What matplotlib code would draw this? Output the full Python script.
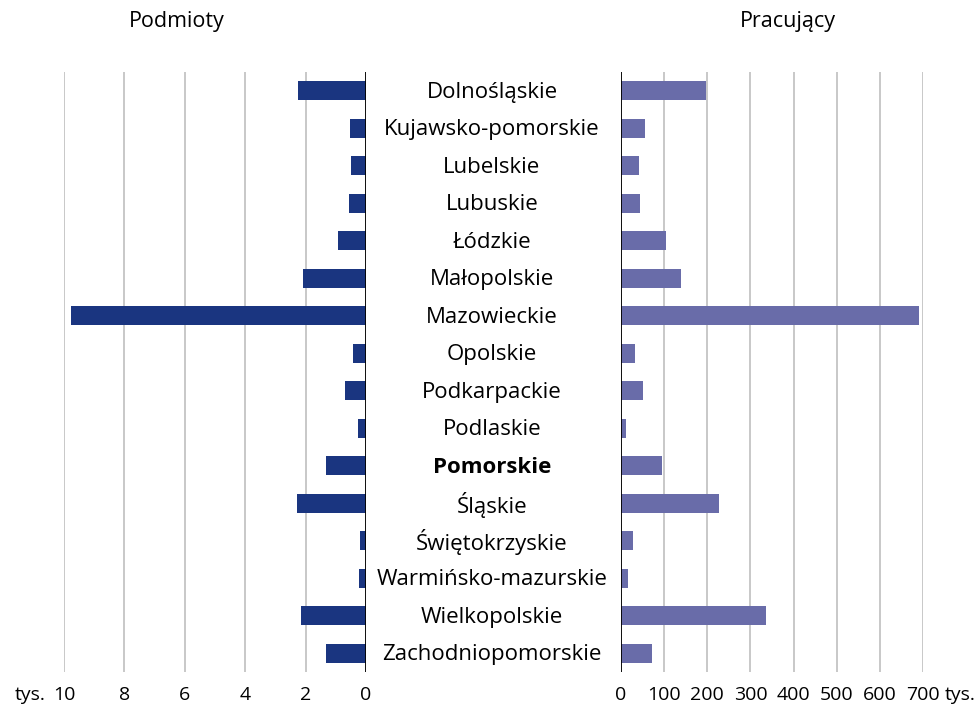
import matplotlib.pyplot as plt
import matplotlib.transforms as mtransforms

plt.rcParams['font.family'] = ['Open Sans', 'DejaVu Sans']

# województwa, od góry
regions = ['Dolnośląskie', 'Kujawsko-pomorskie', 'Lubelskie', 'Lubuskie', 'Łódzkie',
           'Małopolskie', 'Mazowieckie', 'Opolskie', 'Podkarpackie', 'Podlaskie',
           'Pomorskie', 'Śląskie', 'Świętokrzyskie', 'Warmińsko-mazurskie',
           'Wielkopolskie', 'Zachodniopomorskie']
# podmioty, tys.
podmioty = [2.26, 0.53, 0.5, 0.56, 0.93, 2.09, 9.78, 0.43, 0.7, 0.27,
            1.33, 2.29, 0.2, 0.23, 2.15, 1.33]
# pracujący, tys.
pracujacy = [198, 56, 42, 44, 105, 140, 690, 33, 51, 12,
             95, 226, 27, 16, 336, 72]
left_ticks = [0, 2, 4, 6, 8, 10]
right_ticks = [0, 100, 200, 300, 400, 500, 600, 700]

c_left = '#1a3580'
c_right = '#696ca9'
grid_c = '#bfbfbf'

fig = plt.figure(figsize=(9.78, 7.09), dpi=100)
ax1 = fig.add_axes([64 / 978, 1 - 672 / 709, 302 / 978, 600 / 709])
ax2 = fig.add_axes([621 / 978, 1 - 672 / 709, 302 / 978, 600 / 709])

y = list(range(len(regions)))

ax1.barh(y, podmioty, height=0.5, color=c_left, zorder=3)
ax1.set_xlim(10, 0)
ax1.set_xticks(left_ticks)

ax2.barh(y, pracujacy, height=0.5, color=c_right, zorder=3)
ax2.set_xlim(0, 700)
ax2.set_xticks(right_ticks)

for ax in (ax1, ax2):
    ax.set_ylim(len(regions) - 0.5, -0.5)
    ax.set_yticks([])
    for s in ax.spines.values():
        s.set_visible(False)
    ax.grid(axis='x', color=grid_c, linewidth=1.2, zorder=0)
    ax.tick_params(axis='x', length=0, labelsize=14, pad=10)
    ax.axvline(0, color='black', linewidth=1.3, zorder=4)

# "tys." beside the axis numbers
ax1.annotate('tys.', xy=(10, 0), xycoords=('data', 'axes fraction'),
             xytext=(-13, -10), textcoords='offset points',
             ha='right', va='top', fontsize=14)
ax2.annotate('tys.', xy=(700, 0), xycoords=('data', 'axes fraction'),
             xytext=(16, -10), textcoords='offset points',
             ha='left', va='top', fontsize=14)

# category names in the middle column
trans = mtransforms.blended_transform_factory(fig.transFigure, ax1.transData)
for i, name in enumerate(regions):
    fig.text(492 / 978, i + 0.04, name, transform=trans, ha='center', va='center',
             fontsize=16, fontweight='bold' if name == 'Pomorskie' else 'normal')

fig.text(177 / 978, 1 - 22 / 709, 'Podmioty', ha='center', va='center', fontsize=15.5)
fig.text(788 / 978, 1 - 22 / 709, 'Pracujący', ha='center', va='center', fontsize=15.5)

fig.savefig('out.png', dpi=100)
